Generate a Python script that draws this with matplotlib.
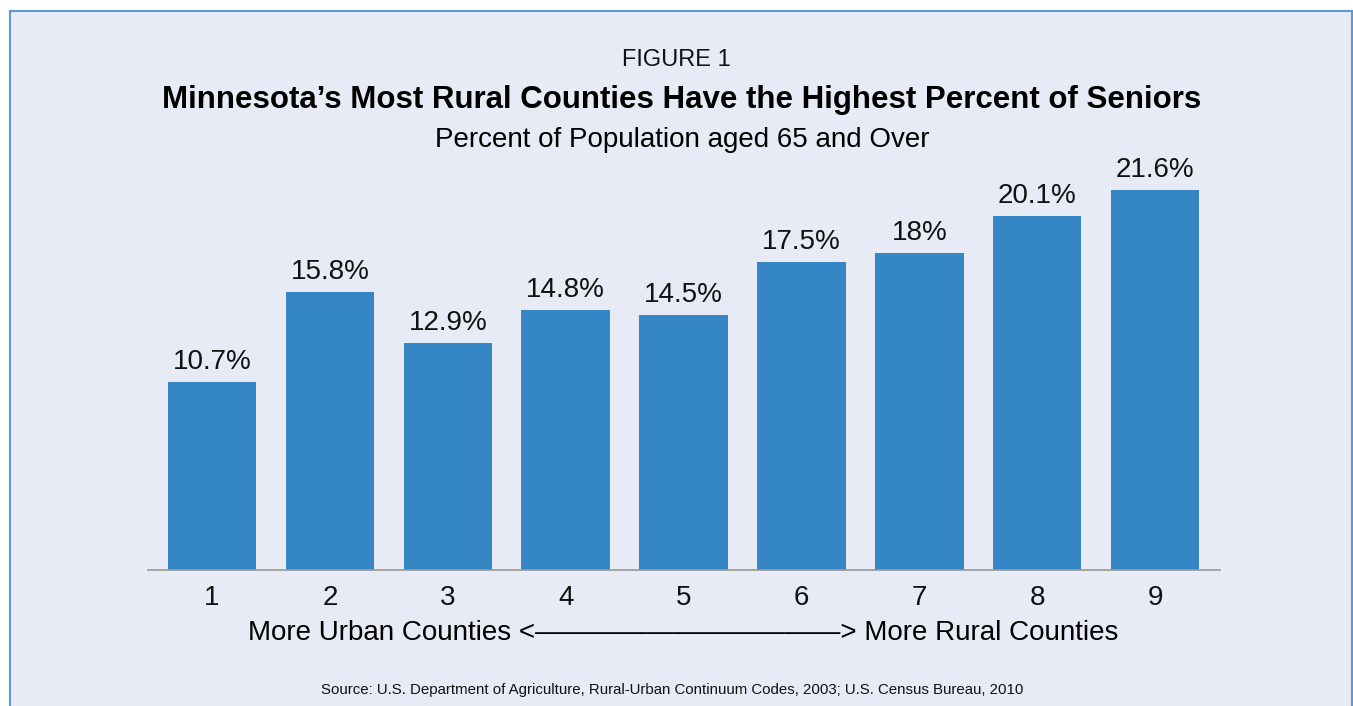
import matplotlib
matplotlib.use("Agg")
import matplotlib.pyplot as plt
from matplotlib.patches import Rectangle

plt.rcParams["font.family"] = ["Liberation Sans", "DejaVu Sans"]

# Rural-urban continuum code (1 = most urban, 9 = most rural)
codes = ["1", "2", "3", "4", "5", "6", "7", "8", "9"]
pct_65_over = [10.7, 15.8, 12.9, 14.8, 14.5, 17.5, 18.0, 20.1, 21.6]
value_labels = ["10.7%", "15.8%", "12.9%", "14.8%", "14.5%", "17.5%", "18%", "20.1%", "21.6%"]

bar_color = "#3586c4"
bg_color = "#e6ebf5"
frame_color = "#5b9bd5"

W, H = 1353, 706
fig = plt.figure(figsize=(W / 100, H / 100), dpi=100)
fig.patch.set_facecolor("white")

# light panel with a blue outline
fig.patches.append(Rectangle((10 / W, -0.02), (1352 - 10) / W, 1 - 11 / H + 0.02,
                             transform=fig.transFigure, facecolor=bg_color,
                             edgecolor=frame_color, linewidth=1.5, zorder=-5))

ax_left, ax_right = 148 / W, 1220 / W
ax_bottom = 1 - 570 / H
ymax = 24.0
px_per_unit = 17.6
ax_height = ymax * px_per_unit / H
ax = fig.add_axes([ax_left, ax_bottom, ax_right - ax_left, ax_height])
ax.set_facecolor("none")
ax.set_zorder(2)

x = list(range(1, len(codes) + 1))
bars = ax.bar(x, pct_65_over, width=0.75, color=bar_color, zorder=2)
ax.set_xlim(0.457, 9.55)
ax.set_ylim(0, ymax)

for xi, v, lab in zip(x, pct_65_over, value_labels):
    ax.annotate(lab, (xi, v), xytext=(0, 5), textcoords="offset points",
                ha="center", va="bottom", fontsize=20, color="#111111")

for s in ["top", "right", "left"]:
    ax.spines[s].set_visible(False)
ax.spines["bottom"].set_color("#999999")
ax.spines["bottom"].set_linewidth(1.2)
ax.set_yticks([])
ax.set_xticks(x)
ax.set_xticklabels(codes, fontsize=20, color="#111111")
ax.tick_params(axis="x", length=0, pad=11)

def fy(py):
    return 1 - py / H

fig.text(0.5 + 0 / W, fy(60), "FIGURE 1", ha="center", va="center",
         fontsize=17, color="#111111")
fig.text(682 / W, fy(100), "Minnesota\u2019s Most Rural Counties Have the Highest Percent of Seniors",
         ha="center", va="center", fontsize=22.5, fontweight="bold", color="black")
fig.text(682 / W, fy(140), "Percent of Population aged 65 and Over", ha="center",
         va="center", fontsize=20, color="black")
fig.text(683 / W, fy(633), "More Urban Counties <" + "\u2014" * 11 + "> More Rural Counties",
         ha="center", va="center", fontsize=20, color="black")
fig.text(672 / W, fy(690),
         "Source: U.S. Department of Agriculture, Rural-Urban Continuum Codes, 2003; U.S. Census Bureau, 2010",
         ha="center", va="center", fontsize=10.8, color="#111111")

fig.savefig("out.png", dpi=100, facecolor=fig.get_facecolor())
